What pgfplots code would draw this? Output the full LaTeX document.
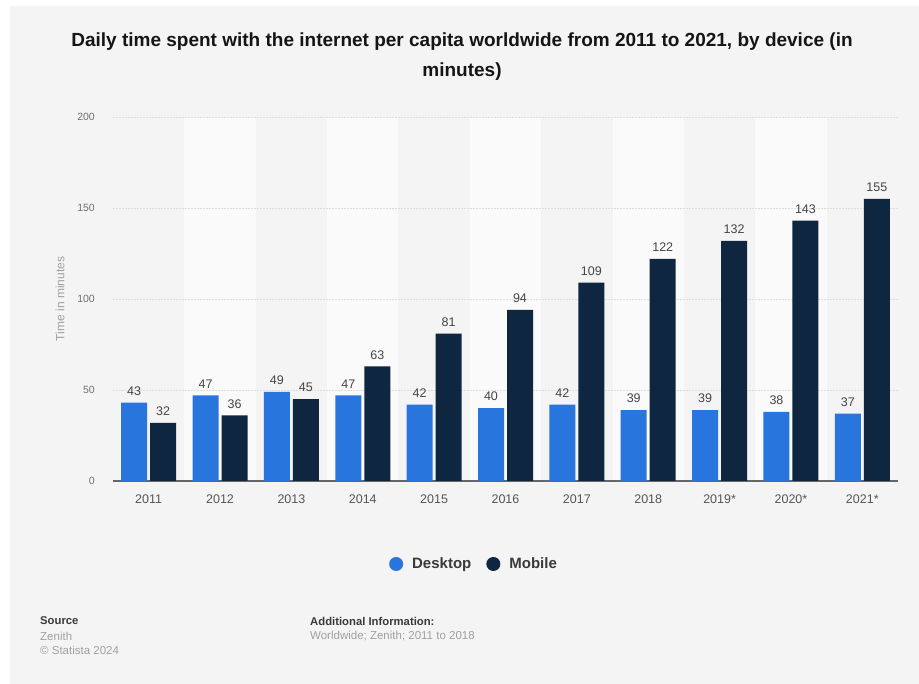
\documentclass[border=0pt]{standalone}
\usepackage{pgfplots}
\pgfplotsset{compat=1.18}
\usepackage{fontspec}
\setmainfont{Liberation Sans}
\definecolor{bgc}{HTML}{F4F4F4}
\definecolor{bandc}{HTML}{FAFAFA}
\definecolor{desk}{HTML}{2876DD}
\definecolor{mob}{HTML}{0F2640}
\definecolor{gridc}{HTML}{DDDDDD}
\definecolor{axisc}{HTML}{666666}
\definecolor{ticklab}{HTML}{707070}
\definecolor{xlab}{HTML}{555555}
\definecolor{vallab}{HTML}{444444}
\definecolor{titlec}{HTML}{151515}
\definecolor{footgray}{HTML}{A0A0A0}
\definecolor{footdark}{HTML}{3A3A3A}
\begin{document}
\begin{tikzpicture}
\useasboundingbox (-113pt,-203pt) rectangle (806pt,481pt);
\fill[white] (-113pt,-203pt) rectangle (806pt,481pt);
\fill[bgc] (-103pt,-203pt) rectangle (806pt,475pt);
\fill[bandc] (71.364pt,0pt) rectangle (142.727pt,364pt);
\fill[bandc] (214.091pt,0pt) rectangle (285.455pt,364pt);
\fill[bandc] (356.818pt,0pt) rectangle (428.182pt,364pt);
\fill[bandc] (499.545pt,0pt) rectangle (570.909pt,364pt);
\fill[bandc] (642.273pt,0pt) rectangle (713.636pt,364pt);
\begin{axis}[
  at={(0pt,0pt)}, anchor=south west,
  scale only axis,
  width=785pt, height=364pt,
  xmin=-0.5, xmax=10.5,
  ymin=0, ymax=200,
  ybar=3pt, bar width=26pt,
  xtick={0,1,2,3,4,5,6,7,8,9,10},
  xticklabels={2011,2012,2013,2014,2015,2016,2017,2018,2019*,2020*,2021*},
  ytick={0,50,100,150,200},
  major tick length=0pt,
  tick style={draw=none},
  axis lines*=left,
  separate axis lines,
  x axis line style={draw=axisc, line width=1.6pt},
  y axis line style={draw=none},
  ymajorgrids,
  grid style={draw=gridc, line width=0.7pt, dash pattern=on 2pt off 1pt},
  /pgf/number format/assume math mode=true,
  y tick label style={anchor=east, inner sep=0pt, xshift=-18pt, text=ticklab, font=\fontsize{10.5}{12}\selectfont},
  x tick label style={anchor=north, inner sep=0pt, yshift=-14pt, text=xlab, font=\fontsize{12.5}{14}\selectfont},
  nodes near coords,
  every node near coord/.append style={inner sep=0pt, yshift=7pt, text=vallab, font=\fontsize{12.5}{14}\selectfont},
  legend columns=2,
  legend style={at={(0.4586,-0.228)}, anchor=center, draw=none, fill=none,
    font=\bfseries\fontsize{15}{17}\selectfont, text=footdark,
    nodes={inner sep=0pt},
    /tikz/every odd column/.append style={column sep=9pt},
    /tikz/every even column/.append style={column sep=15pt}},
]
\addplot[fill=desk, draw=none, legend image code/.code={\fill[desk] (0pt,0pt) circle (7pt);}] coordinates {(0,43) (1,47) (2,49) (3,47) (4,42) (5,40) (6,42) (7,39) (8,39) (9,38) (10,37)};
\addlegendentry{Desktop}
\addplot[fill=mob, draw=none, legend image code/.code={\fill[mob] (0pt,0pt) circle (7pt);}] coordinates {(0,32) (1,36) (2,45) (3,63) (4,81) (5,94) (6,109) (7,122) (8,132) (9,143) (10,155)};
\addlegendentry{Mobile}
\end{axis}
\node[rotate=90, text=footgray, font=\fontsize{12}{14}\selectfont] at (-53pt,182pt) {Time in minutes};
\node[text=titlec, font=\bfseries\fontsize{19}{22}\selectfont] at (349pt,439pt) {Daily time spent with the internet per capita worldwide from 2011 to 2021, by device (in};
\node[text=titlec, font=\bfseries\fontsize{19}{22}\selectfont] at (349pt,409pt) {minutes)};
\begin{scope}[every node/.style={anchor=west, inner sep=0pt, font=\fontsize{11.5}{13}\selectfont}]
\node[text=footdark, font=\bfseries\fontsize{11.3}{13}\selectfont] at (-73pt,-140pt) {Source};
\node[text=footgray] at (-73pt,-155pt) {Zenith};
\node[text=footgray] at (-73pt,-169pt) {© Statista 2024};
\node[text=footdark, font=\bfseries\fontsize{11.3}{13}\selectfont] at (197pt,-140pt) {Additional Information:};
\node[text=footgray] at (197pt,-155pt) {Worldwide; Zenith; 2011 to 2018};
\end{scope}
\end{tikzpicture}
\end{document}
